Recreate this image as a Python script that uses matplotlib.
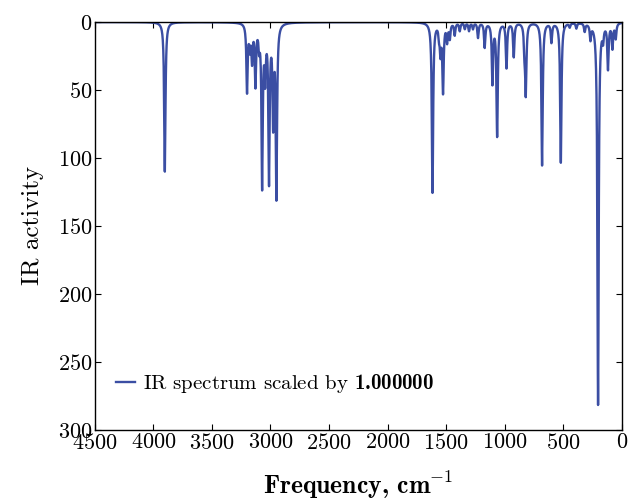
import numpy as np
import matplotlib
matplotlib.use("Agg")
import matplotlib.pyplot as plt

plt.rcParams['font.family'] = 'serif'
plt.rcParams['font.serif'] = ['cmr10']
plt.rcParams['mathtext.fontset'] = 'custom'
plt.rcParams['mathtext.rm'] = 'cmr10'
plt.rcParams['mathtext.bf'] = 'cmb10'
plt.rcParams['mathtext.fallback'] = 'cm'
plt.rcParams['axes.formatter.use_mathtext'] = True

# peak list: position (cm-1) and intensity
peak_freq = [3902, 3200, 3176, 3157, 3128, 3097, 3071, 3045, 3012, 2977, 2949,
             1616, 1560, 1548, 1526, 1491, 1468, 1426, 1383, 1340, 1304, 1270,
             1227, 1170, 1104, 1064, 984, 922, 830, 819, 680, 600, 520, 444,
             387, 316, 267, 202, 159, 117, 79, 51]
peak_int = [110, 50, 16, 26, 44, 14, 118, 36, 114, 70, 126,
            125, 8, 20, 50, 13, 11, 9, 6, 4.5, 6, 4.5,
            11, 18, 44, 83, 33, 25, 18, 50, 105, 14, 103, 3,
            4, 6, 11, 281, 10, 33, 18, 11]
hwhm = 6.5
scale = 1.0

freq = np.linspace(0, 4500, 9001)
activity = np.zeros_like(freq)
for f0, a in zip(peak_freq, peak_int):
    activity += a / (1 + ((freq - f0) / hwhm) ** 2)
activity *= scale

fig = plt.figure(figsize=(6.28, 5.01), dpi=100)
ax = fig.add_axes([0.151, 0.142, 0.839, 0.814])

ax.plot(freq, activity, color='#3b4ea3', linewidth=1.7,
        label=r'IR spectrum scaled by $\mathbf{1.000000}$')

ax.set_xlim(4500, 0)
ax.set_ylim(300, 0)
ax.set_xticks(np.arange(0, 4501, 500))
ax.set_yticks(np.arange(0, 301, 50))
ax.tick_params(direction='in', top=True, right=True, labelsize=16, length=4,
               pad=2)
ax.set_xlabel(r'Frequency, cm$^{-1}$', fontsize=18.5, labelpad=12,
              family='cmb10')
ax.set_ylabel('IR activity', fontsize=18, labelpad=10)
for s in ax.spines.values():
    s.set_linewidth(1.0)

ax.legend(loc='lower left', frameon=False, handlelength=0.9, handletextpad=0.4,
          bbox_to_anchor=(0.005, 0.04), prop={'size': 15})

fig.savefig('out.png', dpi=100)
